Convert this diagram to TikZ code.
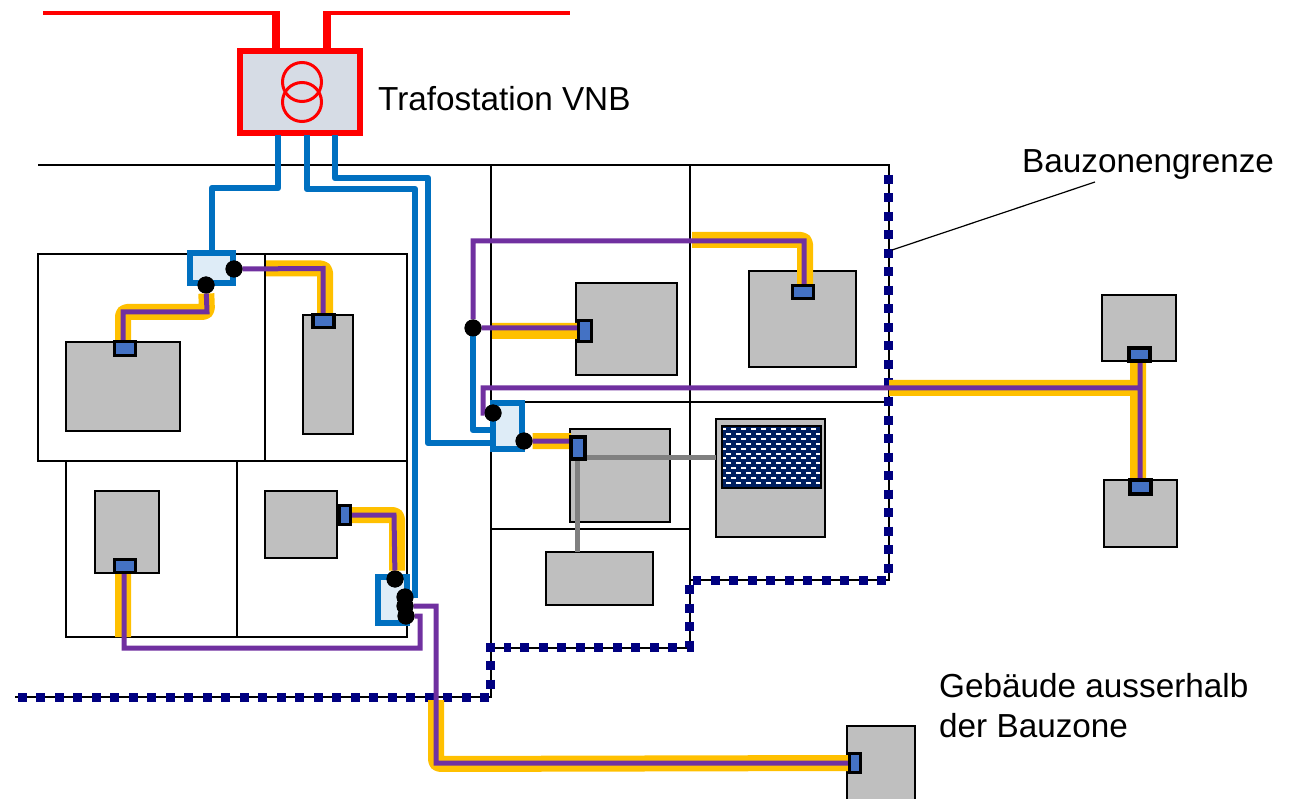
\documentclass[tikz,border=0pt]{standalone}
\usepackage{fontspec}
\setmainfont{Liberation Sans}
\usepackage{tikz}
\definecolor{netred}{HTML}{FF0000}
\definecolor{netblue}{HTML}{0070C0}
\definecolor{fibreyellow}{HTML}{FFC000}
\definecolor{fibrepurple}{HTML}{7030A0}
\definecolor{zonenavy}{HTML}{000080}
\definecolor{housegray}{HTML}{BFBFBF}
\definecolor{meterblue}{HTML}{4472C4}
\definecolor{stationgray}{HTML}{D6DCE5}
\definecolor{hatchnavy}{HTML}{002060}
\tikzset{parcel/.style={draw=black,line width=1.8pt}}
\tikzset{zone/.style={draw=zonenavy,line width=9pt,dash pattern=on 9pt off 9.5pt}}
\tikzset{house/.style 2 args={draw=black,line width=2pt,fill=housegray,inner sep=0pt,outer sep=0pt,minimum width=#1,minimum height=#2}}
\tikzset{meter/.style 2 args={draw=black,line width=3.2pt,fill=meterblue,inner sep=0pt,outer sep=0pt,minimum width=#1,minimum height=#2}}
\tikzset{cabinet/.style 2 args={draw=netblue,line width=6pt,fill=netblue!13,inner sep=0pt,outer sep=0pt,minimum width=#1,minimum height=#2}}
\tikzset{joint/.style={circle,fill=black,inner sep=0pt,outer sep=0pt,minimum size=17pt}}
\tikzset{bluecable/.style={draw=netblue,line width=6.5pt,line join=round}}
\tikzset{yellowduct/.style={draw=fibreyellow,line width=16pt,rounded corners=4pt,line join=round}}
\tikzset{purplefibre/.style={draw=fibrepurple,line width=5pt}}
\tikzset{graylink/.style={draw=black!50,line width=5pt}}
\tikzset{caption/.style={inner sep=0pt,align=left,font=\fontsize{33.3}{40}\selectfont}}

\begin{document}
\begin{tikzpicture}[x=1pt,y=-1pt]
  \clip (0,0) rectangle (1293,799);
  % parcels
  \draw[parcel] (38,165) -- (889,165) -- (889,580) -- (690,580) -- (690,648) -- (491,648) -- (491,697) -- (15,697);
  \draw[parcel] (491,165) -- (491,648);
  \draw[parcel] (690,165) -- (690,580);
  \draw[parcel] (491,402) -- (889,402);
  \draw[parcel] (491,529) -- (690,529);
  \draw[parcel] (38,254) rectangle (407,461);
  \draw[parcel] (66,461) rectangle (407,637);
  \draw[parcel] (265,254) -- (265,461);
  \draw[parcel] (237,461) -- (237,637);
  % houses
  \node[house={114pt}{89pt}] (hA) at (123,386.5) {};
  \node[house={50pt}{119pt}] (hB) at (328,374.5) {};
  \node[house={64pt}{82pt}] (hC) at (127,532) {};
  \node[house={72pt}{67pt}] (hD) at (301,524.5) {};
  \node[house={101pt}{92pt}] (hE) at (626.5,329) {};
  \node[house={107pt}{96pt}] (hF) at (802.5,319) {};
  \node[house={100pt}{93pt}] (hG) at (620,475.5) {};
  \node[house={109pt}{118pt}] (hH) at (770.5,478) {};
  \node[house={107pt}{53pt}] (hI) at (599.5,578.5) {};
  \node[house={74pt}{66pt}] (hJ) at (1139,328) {};
  \node[house={73pt}{67pt}] (hK) at (1140.5,513.5) {};
  \node[house={68pt}{84pt}] (hL) at (881,768) {};
  \begin{scope}
    \clip (722,426) rectangle (821,488);
    \fill[hatchnavy] (722,426) rectangle (821,488);
    \foreach \row in {0,...,12}
      \foreach \col in {0,...,10}
        \fill[white] ({721+\col*10+mod(\row,2)*5},{428+\row*4.9}) rectangle +(5,2);
  \end{scope}
  \draw[black,line width=1.5pt] (722,426) rectangle (821,488);
  % zone limit
  \draw[zone] (888,175) -- (888,580) -- (693,580);
  \draw[zone] (689,585) -- (689,647) -- (503.5,647);
  \draw[zone] (490,642.5) -- (490,697) -- (12,697);
  % meters, cabinets and joints
  \node[cabinet={43pt}{30pt}] (boxA) at (211.5,268) {};
  \node[cabinet={29pt}{46pt}] (boxB) at (392.5,600) {};
  \node[cabinet={29pt}{46pt}] (boxC) at (507.5,426) {};
  \node[meter={21pt}{14pt}] (mA) at (125,348.5) {};
  \node[meter={21pt}{13pt}] (mB) at (323.5,321) {};
  \node[meter={21pt}{13pt}] (mC) at (125,566) {};
  \node[meter={11pt}{19pt}] (mD) at (345,515) {};
  \node[meter={13pt}{21pt}] (mE) at (585,331) {};
  \node[meter={21pt}{13pt}] (mF) at (803,292) {};
  \node[meter={14pt}{22pt}] (mG) at (578,448) {};
  \node[meter={21pt}{13pt}] (mJ) at (1139.5,354.5) {};
  \node[meter={21pt}{14pt}] (mK) at (1140.5,487) {};
  \node[meter={11pt}{19pt}] (mL) at (855,763) {};
  \node[joint] (jA) at (206,285) {};
  \node[joint] (jB) at (234,269) {};
  \node[joint] (jC) at (395,579) {};
  \node[joint] (jD) at (405,597) {};
  \node[joint] (jE) at (405,606) {};
  \node[joint] (jF) at (406,616) {};
  \node[joint] (jG) at (473,328) {};
  \node[joint] (jH) at (493,413) {};
  \node[joint] (jI) at (524,441) {};
  % transformer
  \node[draw=netred,line width=6pt,fill=stationgray,inner sep=0pt,outer sep=0pt,minimum width=120pt,minimum height=82pt] (trafo) at (300,92) {};
  \node[circle,draw=netred,line width=3pt,inner sep=0pt,minimum size=39pt] (coilA) at (302,82) {};
  \node[circle,draw=netred,line width=3pt,inner sep=0pt,minimum size=39pt] (coilB) at (302,102) {};
  \coordinate (redA) at (43,13);
  \coordinate (redB) at (570,13);
  \draw[netred,line width=3.5pt] (redA) -- (277,13);
  \draw[netred,line width=3.5pt] (327,13) -- (redB);
  \draw[netred,line width=8pt] (276,11.5) -- (276,48);
  \draw[netred,line width=8pt] (327,11.5) -- (327,48);
  % cables
  \path[bluecable]
    (278,135) -- (278,188) -- (212,188) -- (boxA.north -| 212,0)
    (307,135) -- (307,189) -- (415,189) -- (415,598)
    (335,135) -- (335,178) -- (428,178) -- (428,443) -- (boxC.west |- 0,443)
    (jG) -- (473,430) -- (boxC.west |- 0,430);
  \path[yellowduct]
    (jA) -- (207,312) -- (123,312) -- (mA.north -| 123,0)
    (266,268.5) -- (325,268.5) -- (mB.north -| 325,0)
    (123,637) -- (mC.south -| 123,0)
    (mD.east) -- (397,515) -- (jC.north -| 397,0)
    (436,700) -- (436,764) -- (mL.west)
    (692,240) -- (805,240) -- (mF.north -| 805,0)
    (492,331) -- (mE.west |- 0,331)
    (889,388) -- (1138,388) (1138,363) -- (1138,480)
    (jI) -- (mG.west |- jI);
  \path[purplefibre]
    (jA) -- (207,312) -- (123,312) -- (mA.north -| 123,0)
    (jB) -- (323,268.5) -- (mB.north -| 323,0)
    (jF) -- (420,616) -- (420,648) -- (124,648) -- (mC.south -| 124,0)
    (mD.east) -- (394,515) -- (jC)
    (jE) -- (436,606) -- (436,763) -- (mL.west)
    (jG) -- (473,241) -- (804,241) -- (mF.north -| 804,0)
    (jG) -- (mE.west |- jG)
    (jH) -- (483,413) -- (483,388) -- (1140,388) (1140,363) -- (1140,480)
    (jI) -- (mG.west |- jI);
  \path[graylink]
    (mG.south -| 577,0) -- (hI.north -| 577,0)
    (587,457) -- (hH.west |- 0,457);
  % meters and joints again on top of the cables
  \foreach \m/\x/\y/\w/\h in {mA/125/348.5/21/14,mB/323.5/321/21/13,mD/345/515/11/19,mE/585/331/13/21,mF/803/292/21/13,mG/578/448/14/22,mJ/1139.5/354.5/21/13,mK/1140.5/487/21/14,mL/855/763/11/19,mC/125/566/21/13}
    \node[meter={\w pt}{\h pt}] at (\x,\y) {};
  \foreach \j/\x/\y in {jA/206/285,jB/234/269,jC/395/579,jD/405/597,jE/405/606,jF/406/616,jG/473/328,jH/493/413,jI/524/441}
    \node[joint] at (\x,\y) {};
  % labels
  \node[caption,anchor=west] (trafolabel) at (378,99) {Trafostation VNB};
  \node[caption,anchor=west] (zonelabel) at (1022,165) {Bauzonengrenze};
  \node[caption,anchor=west] (outsidelabel) at (939,706) {Gebäude ausserhalb\\der Bauzone};
  \coordinate (zonetip) at (892,250);
  \coordinate (zoneend) at (1095,182);
  \draw[black,line width=1.2pt] (zonetip) -- (zoneend);
\end{tikzpicture}
\end{document}
